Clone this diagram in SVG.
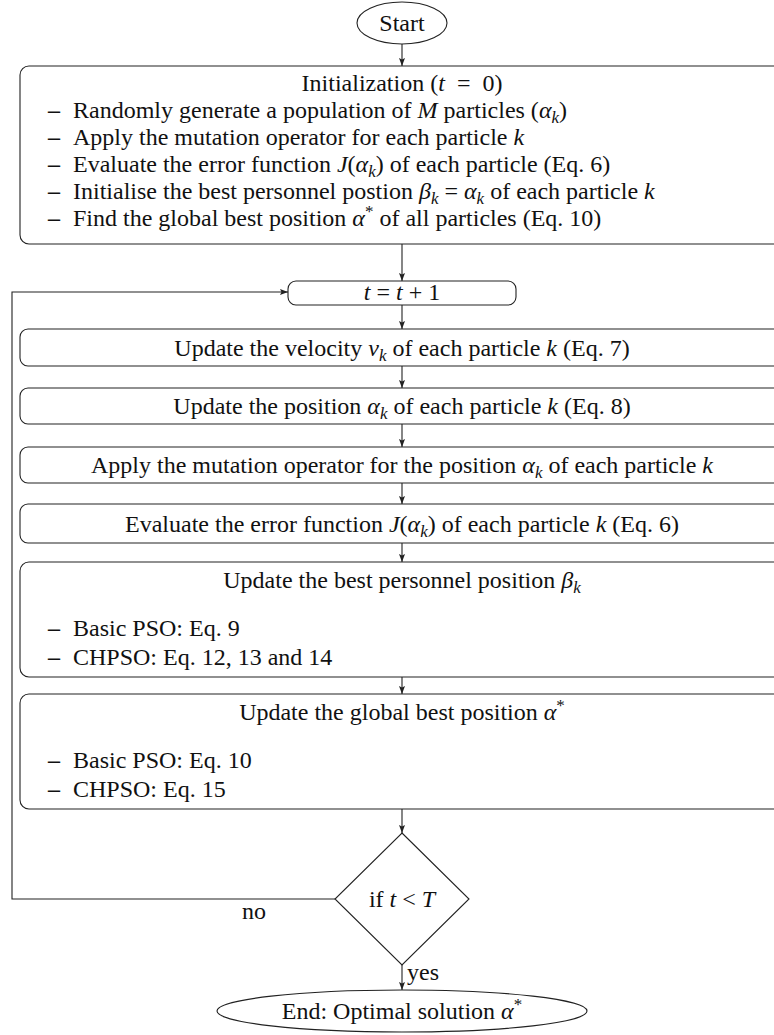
<svg xmlns="http://www.w3.org/2000/svg" width="774" height="1035" viewBox="0 0 774 1035">
<defs>
<style>
.box{fill:#fff;stroke:#222;stroke-width:1.1}
.ln{fill:none;stroke:#222;stroke-width:1.1}
.t{font-family:"Liberation Serif","Times New Roman",serif;font-size:24px;fill:#111}
.c{text-anchor:middle}
.i{font-style:italic}
.s{font-style:italic;font-size:17px}
.sp{font-size:17px}
.d{font-weight:bold}
</style>
<marker id="ah" viewBox="0 0 8 6" refX="8" refY="3" markerWidth="8" markerHeight="6" markerUnits="userSpaceOnUse" orient="auto">
<path d="M0,0 L8,3 L0,6 L1.5,3 z" fill="#222"/>
</marker>
</defs>
<rect width="774" height="1035" fill="#fff"/>

<g id="connectors">
<line class="ln" x1="402" y1="44" x2="402" y2="66" marker-end="url(#ah)"/>
<line class="ln" x1="402" y1="244" x2="402" y2="281" marker-end="url(#ah)"/>
<line class="ln" x1="402" y1="305" x2="402" y2="329" marker-end="url(#ah)"/>
<line class="ln" x1="402" y1="366" x2="402" y2="388" marker-end="url(#ah)"/>
<line class="ln" x1="402" y1="424" x2="402" y2="447" marker-end="url(#ah)"/>
<line class="ln" x1="402" y1="483" x2="402" y2="504" marker-end="url(#ah)"/>
<line class="ln" x1="402" y1="543" x2="402" y2="562" marker-end="url(#ah)"/>
<line class="ln" x1="402" y1="677" x2="402" y2="694" marker-end="url(#ah)"/>
<line class="ln" x1="402" y1="809" x2="402" y2="833" marker-end="url(#ah)"/>
<line class="ln" x1="402" y1="965" x2="402" y2="990" marker-end="url(#ah)"/>
<polyline class="ln" points="335,899 12,899 12,292 288,292" marker-end="url(#ah)"/>
<text class="t" x="242" y="919">no</text>
<text class="t" x="407" y="980">yes</text>
</g>

<g id="start">
<ellipse class="box" cx="402" cy="23" rx="45" ry="21"/>
<text class="t c" x="402" y="31">Start</text>
</g>

<g id="init">
<rect class="box" x="20" y="66" width="764" height="178" rx="9"/>
<text class="t c" x="402" y="91" xml:space="preserve">Initialization (<tspan class="i">t</tspan>  =  0)</text>
<text class="t" x="48" y="118"><tspan class="d">–</tspan><tspan x="73">Randomly generate a population of </tspan><tspan class="i">M</tspan> particles (<tspan class="i">α</tspan><tspan class="s" dy="5">k</tspan><tspan dy="-5">)</tspan></text>
<text class="t" x="48" y="145"><tspan class="d">–</tspan><tspan x="73">Apply the mutation operator for each particle </tspan><tspan class="i">k</tspan></text>
<text class="t" x="48" y="172"><tspan class="d">–</tspan><tspan x="73">Evaluate the error function </tspan><tspan class="i">J</tspan>(<tspan class="i">α</tspan><tspan class="s" dy="5">k</tspan><tspan dy="-5">) of each particle (Eq. 6)</tspan></text>
<text class="t" x="48" y="199"><tspan class="d">–</tspan><tspan x="73">Initialise the best personnel postion </tspan><tspan class="i">β</tspan><tspan class="s" dy="5">k</tspan><tspan dy="-5"> = </tspan><tspan class="i">α</tspan><tspan class="s" dy="5">k</tspan><tspan dy="-5"> of each particle </tspan><tspan class="i">k</tspan></text>
<text class="t" x="48" y="226"><tspan class="d">–</tspan><tspan x="73">Find the global best position </tspan><tspan class="i">α</tspan><tspan class="sp" dy="-9">*</tspan><tspan dy="9"> of all particles (Eq. 10)</tspan></text>
</g>

<g id="increment">
<rect class="box" x="288" y="281" width="228" height="24" rx="8"/>
<text class="t c" x="402" y="300"><tspan class="i">t</tspan> = <tspan class="i">t</tspan> + 1</text>
</g>

<g id="velocity">
<rect class="box" x="20" y="329" width="764" height="37" rx="8"/>
<text class="t c" x="402" y="356">Update the velocity <tspan class="i">v</tspan><tspan class="s" dy="5">k</tspan><tspan dy="-5"> of each particle </tspan><tspan class="i">k</tspan> (Eq. 7)</text>
</g>

<g id="position">
<rect class="box" x="20" y="388" width="764" height="36" rx="8"/>
<text class="t c" x="402" y="414">Update the position <tspan class="i">α</tspan><tspan class="s" dy="5">k</tspan><tspan dy="-5"> of each particle </tspan><tspan class="i">k</tspan> (Eq. 8)</text>
</g>

<g id="mutation">
<rect class="box" x="20" y="447" width="764" height="36" rx="8"/>
<text class="t c" x="402" y="473">Apply the mutation operator for the position <tspan class="i">α</tspan><tspan class="s" dy="5">k</tspan><tspan dy="-5"> of each particle </tspan><tspan class="i">k</tspan></text>
</g>

<g id="evaluate">
<rect class="box" x="20" y="504" width="764" height="39" rx="8"/>
<text class="t c" x="402" y="532">Evaluate the error function <tspan class="i">J</tspan>(<tspan class="i">α</tspan><tspan class="s" dy="5">k</tspan><tspan dy="-5">) of each particle </tspan><tspan class="i">k</tspan> (Eq. 6)</text>
</g>

<g id="personal-best">
<rect class="box" x="20" y="562" width="764" height="115" rx="9"/>
<text class="t c" x="402" y="588">Update the best personnel position <tspan class="i">β</tspan><tspan class="s" dy="5">k</tspan></text>
<text class="t" x="48" y="636"><tspan class="d">–</tspan><tspan x="73">Basic PSO: Eq. 9</tspan></text>
<text class="t" x="48" y="665"><tspan class="d">–</tspan><tspan x="73">CHPSO: Eq. 12, 13 and 14</tspan></text>
</g>

<g id="global-best">
<rect class="box" x="20" y="694" width="764" height="115" rx="9"/>
<text class="t c" x="402" y="720">Update the global best position <tspan class="i">α</tspan><tspan class="sp" dy="-9">*</tspan></text>
<text class="t" x="48" y="768"><tspan class="d">–</tspan><tspan x="73">Basic PSO: Eq. 10</tspan></text>
<text class="t" x="48" y="797"><tspan class="d">–</tspan><tspan x="73">CHPSO: Eq. 15</tspan></text>
</g>

<g id="decision">
<polygon class="box" points="402,833 469,899 402,965 335,899"/>
<text class="t c" x="402" y="907">if <tspan class="i">t</tspan> &lt; <tspan class="i">T</tspan></text>
</g>

<g id="end">
<ellipse class="box" cx="402" cy="1011" rx="185" ry="21"/>
<text class="t c" x="402" y="1019">End: Optimal solution <tspan class="i">α</tspan><tspan class="sp" dy="-9">*</tspan></text>
</g>
</svg>
